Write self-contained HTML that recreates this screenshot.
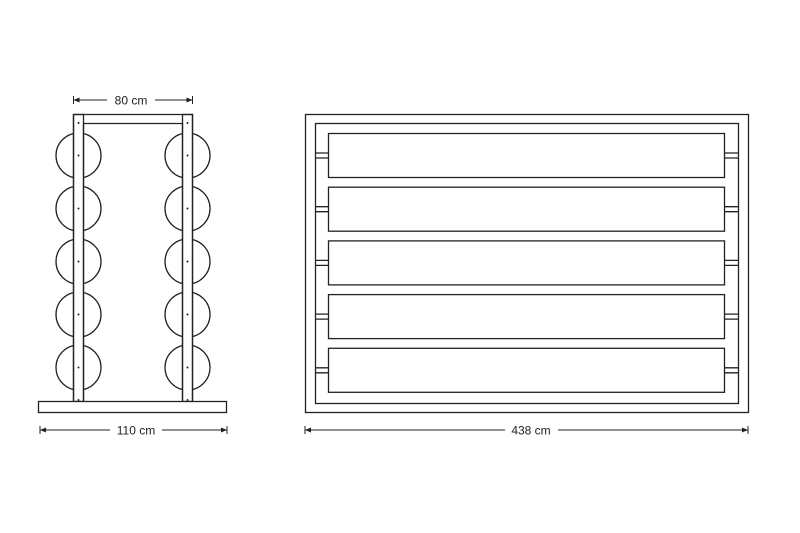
<!DOCTYPE html>
<html><head><style>body{margin:0;background:#fff}svg{display:block}</style></head><body>
<svg width="800" height="533" viewBox="0 0 800 533" xmlns="http://www.w3.org/2000/svg" font-family="Liberation Sans, sans-serif">
<g fill="none" stroke="#222" stroke-width="1.3">
<!-- circles -->
<g>
<circle cx="78.5" cy="155.5" r="22.5"/><circle cx="78.5" cy="208.5" r="22.5"/><circle cx="78.5" cy="261.5" r="22.5"/><circle cx="78.5" cy="314.5" r="22.5"/><circle cx="78.5" cy="367.5" r="22.5"/>
<circle cx="187.5" cy="155.5" r="22.5"/><circle cx="187.5" cy="208.5" r="22.5"/><circle cx="187.5" cy="261.5" r="22.5"/><circle cx="187.5" cy="314.5" r="22.5"/><circle cx="187.5" cy="367.5" r="22.5"/>
</g>
<rect x="73.5" y="114.5" width="10" height="287" fill="#fff"/>
<rect x="182.5" y="114.5" width="10" height="287" fill="#fff"/>
<path d="M73.5 401.5V114.5H192.5V401.5M83.5 401.5V123.5H182.5V401.5" fill="none"/>
<rect x="38.5" y="401.5" width="188" height="11" fill="#fff"/>
<!-- dims -->
<path d="M73.5 100H107M155 100H192.5M73.5 96v8M192.5 96v8" stroke-width="1"/>
<path d="M40 430H110M162 430H227M40 426v8M227 426v8" stroke-width="1"/>
<path d="M305 430H505M558 430H748M305 426v8M748 426v8" stroke-width="1"/>
<!-- right -->
<rect x="305.5" y="114.5" width="443" height="298"/>
<rect x="315.5" y="123.5" width="423" height="280"/>
<g id="s">
<rect x="328.5" y="133.5" width="396" height="44"/>
<path d="M315.5 153H328.5M315.5 158H328.5M724.5 153H738.5M724.5 158H738.5"/>
</g>
<use href="#s" y="53.7"/><use href="#s" y="107.4"/><use href="#s" y="161.1"/><use href="#s" y="214.8"/>
</g>
<g fill="#222" stroke="none">
<path d="M73.5 100l6-2.5v5zM192.5 100l-6-2.5v5zM40 430l6-2.5v5zM227 430l-6-2.5v5zM305 430l6-2.5v5zM748 430l-6-2.5v5z"/>
<g id="d"><circle cx="78.5" cy="123" r="1"/><circle cx="78.5" cy="155.5" r="1"/><circle cx="78.5" cy="208.5" r="1"/><circle cx="78.5" cy="261.5" r="1"/><circle cx="78.5" cy="314.5" r="1"/><circle cx="78.5" cy="367.5" r="1"/><circle cx="78.5" cy="400" r="1"/></g>
<use href="#d" x="109"/>
<text x="131" y="104.5" font-size="12" text-anchor="middle">80 cm</text>
<text x="136" y="434.5" font-size="12" text-anchor="middle">110 cm</text>
<text x="531" y="434.5" font-size="12" text-anchor="middle">438 cm</text>
</g>
</svg>
</body></html>
